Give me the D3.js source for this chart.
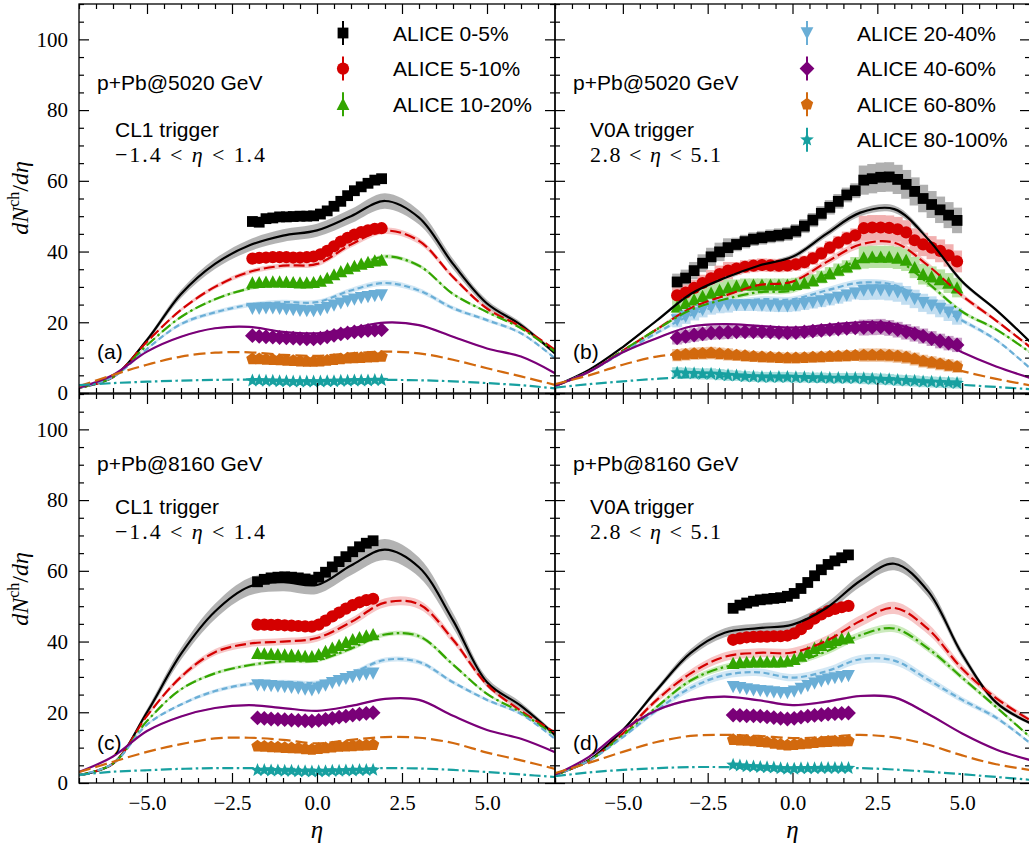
<!DOCTYPE html>
<html>
<head>
<meta charset="utf-8">
<script src="https://cdn.jsdelivr.net/npm/d3@7"></script>
<style>
  body { margin: 0; background: #fff; }
  svg { display: block; }
</style>
</head>
<body>
<svg id="chart" width="1029" height="847"></svg>
<script>
// ---------------- data ----------------
const centralities = ["0-5%", "5-10%", "10-20%", "20-40%", "40-60%", "60-80%", "80-100%"];
const legendTop = ["ALICE 0-5%", "ALICE 5-10%", "ALICE 10-20%"];
const legendBottom = ["ALICE 20-40%", "ALICE 40-60%", "ALICE 60-80%", "ALICE 80-100%"];

const xMajorTicks = [-5, -2.5, 0, 2.5, 5];
const yMajorTicks = [0, 20, 40, 60, 80, 100];

// model pseudorapidity grid
const etaModel = [-7, -6, -5, -4, -3, -2, -1, 0, 1, 2, 3, 4, 5, 6, 7];

// model dN/deta, p+Pb 5020 GeV, CL1 classes (0-5 ... 80-100)
const modelA = [
  [1.5, 4.5, 15, 28, 36.5, 41.7, 44.5, 46, 50, 54.3, 49.6, 36.5, 25.3, 19.2, 11.2],
  [1.5, 4.5, 14.5, 23.5, 30, 34.2, 36, 36.5, 42, 45.9, 43, 32.8, 23.9, 18.7, 12.2],
  [1.5, 4.5, 13.5, 21.5, 26.5, 29.5, 30.9, 31.4, 35, 38.6, 36, 28, 22.9, 18.3, 11.7],
  [1.5, 4.5, 12.5, 19.5, 22.8, 24.9, 25.7, 25.7, 29, 31.1, 29, 24, 20.6, 16.9, 9.8],
  [1.5, 5.1, 11.7, 15.9, 18.3, 18.7, 17.3, 16.9, 18.3, 19.9, 19.2, 15.9, 12.6, 10.3, 5.6],
  [1.9, 5.1, 8, 10.3, 11.4, 11.5, 10.8, 10.5, 11.2, 11.7, 11.2, 9.4, 7, 4.7, 2.3],
  [2.2, 2.8, 3.2, 3.5, 3.7, 3.8, 3.6, 3.5, 3.6, 3.7, 3.6, 3.3, 2.8, 2.2, 1.3]
];
// model dN/deta, p+Pb 5020 GeV, V0A classes
const modelB = [
  [2, 6.5, 13, 20.5, 28, 32.5, 36, 38.5, 45, 51, 52, 43.5, 31.5, 23.5, 14.5],
  [2, 6, 12, 18, 24, 27.5, 30.5, 31.5, 37, 42, 42.5, 36, 27.5, 20.5, 13],
  [2, 6, 12, 18, 23.5, 26.5, 28.5, 29, 33.5, 37.5, 37.8, 31, 23, 18, 11.5],
  [2, 6, 11.5, 17, 22, 25, 26.5, 26.5, 29, 31.2, 30.5, 25.5, 20.5, 15, 7],
  [2, 6, 11.5, 15.5, 18.8, 19.5, 19, 18.5, 19.2, 20, 19.5, 16.5, 11.5, 7.5, 4.3],
  [2.5, 5, 8, 10.3, 11.2, 11, 10.2, 9.9, 10.5, 11.2, 10.8, 9, 6.2, 4, 2.2],
  [1.5, 2.5, 3.3, 4, 4.5, 4.7, 4.5, 4.3, 4.2, 4, 3.6, 3, 2.3, 1.7, 1.1]
];
// model dN/deta, p+Pb 8160 GeV, CL1 classes
const modelC = [
  [2.2, 5.5, 20, 36.5, 48.5, 55.5, 56.8, 56, 61.5, 66, 61, 46, 28.5, 21.8, 13.6],
  [2.2, 5.5, 19, 30, 37, 39.4, 40, 41, 45.5, 51, 50.5, 40.5, 27.8, 20.4, 14.3],
  [2.2, 5.5, 17.5, 26.5, 31, 33.3, 34.4, 34.7, 38, 42, 41.5, 33.5, 25.2, 19.9, 13.4],
  [2.2, 5.5, 16.5, 22.2, 26, 28, 28.6, 28.4, 31, 34.8, 34.2, 28.5, 23.5, 19.5, 12.5],
  [3.1, 7.5, 14.7, 18.8, 21.2, 22, 21.2, 20.4, 21.8, 23.8, 23.5, 19, 15, 12.5, 8.7],
  [3.1, 6, 8.8, 11, 12.6, 12.8, 12.2, 11.2, 12.2, 13, 12.8, 11.3, 8.6, 6.4, 4],
  [2.3, 3.2, 3.6, 4, 4.2, 4.2, 4.1, 3.8, 4, 4.2, 4.1, 3.7, 3.1, 2.4, 1.7]
];
// model dN/deta, p+Pb 8160 GeV, V0A classes
const modelD = [
  [2.3, 6.5, 15, 26.3, 36.8, 42.5, 43.8, 44.8, 49.5, 57.2, 62, 54.2, 36.4, 22.8, 17],
  [2.3, 6.3, 14, 23.5, 31, 35.7, 36.8, 36.9, 40.2, 45.8, 49.5, 43.5, 32.3, 24, 17.8],
  [2.3, 6.3, 13.5, 21.5, 29, 32.8, 34, 34.1, 37.2, 41.8, 43.7, 38, 29.8, 21.5, 13],
  [2.3, 6.3, 13, 20.6, 26.9, 30.5, 31.3, 29.8, 31.6, 35, 34.6, 29.2, 23.5, 18.5, 11.3],
  [2.3, 7.4, 15, 20.6, 23.5, 24.4, 23.4, 22, 23, 24.6, 24.2, 19.5, 14, 9.5, 6.5],
  [2.8, 5.7, 8.8, 11.6, 13.3, 13.6, 13.3, 12.7, 13, 13.6, 12.9, 10.8, 7.8, 5.3, 3.7],
  [1.9, 3, 3.7, 4.2, 4.5, 4.5, 4.3, 4.2, 4.2, 4.2, 3.8, 3.2, 2.5, 1.7, 0.9]
];

// relative model uncertainty (band half-width) per class
const bandA = [0.04, 0.02, 0.015, 0.025, 0.012, 0, 0];
const bandB = [0.02, 0.025, 0.025, 0.03, 0.015, 0, 0];
const bandC = [0.045, 0.025, 0.015, 0.02, 0.01, 0, 0];
const bandD = [0.03, 0.035, 0.025, 0.035, 0.015, 0, 0];

// ALICE measurements
const etaDataA = [-1.9, -1.7, -1.5, -1.3, -1.1, -0.9, -0.7, -0.5, -0.3, -0.1, 0.1, 0.3, 0.5, 0.7, 0.9, 1.1, 1.3, 1.5, 1.7, 1.9];
const dataA = [
  [48.5, 48.3, 49.3, 49.5, 49.8, 49.8, 49.9, 50, 50, 50.1, 50.6, 51.5, 52.8, 54.2, 55.8, 57.2, 58.3, 59.3, 60.2, 60.6],
  [38, 38.2, 38.3, 38.4, 38.4, 38.4, 38.3, 38.3, 38.4, 38.6, 39.2, 40.2, 41.5, 42.8, 43.9, 44.8, 45.5, 46, 46.4, 46.6],
  [31.2, 31.3, 31.4, 31.5, 31.5, 31.4, 31.3, 31.2, 31.2, 31.3, 31.7, 32.5, 33.5, 34.4, 35.2, 35.9, 36.5, 37, 37.4, 37.6],
  [23.9, 23.9, 24, 24, 23.9, 23.7, 23.5, 23.3, 23.2, 23.2, 23.5, 24.1, 24.8, 25.4, 26, 26.5, 26.9, 27.2, 27.5, 27.7],
  [16.2, 16, 15.9, 15.8, 15.7, 15.6, 15.5, 15.4, 15.3, 15.3, 15.5, 15.9, 16.3, 16.7, 17, 17.3, 17.5, 17.7, 17.8, 17.9],
  [9.6, 9.6, 9.5, 9.4, 9.3, 9.2, 9.1, 9, 8.9, 8.9, 9, 9.2, 9.4, 9.6, 9.8, 9.9, 10, 10.1, 10.2, 10.3],
  [3.5, 3.5, 3.4, 3.4, 3.3, 3.3, 3.2, 3.2, 3.2, 3.2, 3.2, 3.3, 3.3, 3.4, 3.4, 3.5, 3.5, 3.5, 3.6, 3.6]
];

const etaDataB = [-3.4, -3.15, -2.9, -2.65, -2.4, -2.15, -1.9, -1.65, -1.4, -1.15, -0.9, -0.65, -0.4, -0.15, 0.1, 0.35, 0.6, 0.85, 1.1, 1.35, 1.6, 1.85,
                  2.1, 2.35, 2.6, 2.85, 3.1, 3.35, 3.6, 3.85, 4.1, 4.35, 4.6, 4.85];
const dataB = [
  [31.4, 32.5, 34.6, 36.7, 38.5, 39.9, 41.1, 42, 42.8, 43.5, 43.9, 44.3, 44.6, 45, 45.8, 47.2, 48.9, 50.8, 52.5, 54.2, 56, 57.2,
   60.2, 60.6, 61, 61.1, 60.4, 59, 57, 55, 53.3, 51.8, 50.3, 48.8],
  [27.6, 28.4, 29.7, 31.1, 32.4, 33.6, 34.6, 35.2, 35.7, 36, 36.2, 36.1, 36, 36.1, 36.4, 37, 38.1, 39.5, 41.1, 42.5, 43.7, 44.6,
   46.6, 46.8, 46.8, 46.7, 46.3, 45.4, 43.2, 42, 41.1, 40.2, 38.9, 37.2],
  [24.4, 25.4, 26.4, 27.4, 28.3, 29.1, 29.8, 30.3, 30.6, 30.6, 30.6, 30.6, 30.6, 30.6, 30.8, 31.1, 31.8, 32.8, 33.8, 34.8, 35.7, 36.6,
   38.3, 38.5, 38.5, 38.5, 38.2, 37.6, 35.5, 33.6, 32.9, 32.1, 31.1, 29.8],
  [20.6, 21.6, 22.6, 23.5, 24.3, 24.7, 24.9, 24.9, 24.9, 24.9, 24.8, 24.7, 24.6, 24.6, 24.8, 25.2, 25.6, 26, 26.5, 27, 27.6, 28.2,
   29, 29.1, 29.1, 28.9, 28.5, 27.6, 26.6, 25.5, 24.8, 23.9, 22.8, 21.7],
  [15.6, 16, 16.4, 16.7, 17, 17.1, 17.2, 17.3, 17.3, 17.3, 17.3, 17.2, 17.1, 17, 17.1, 17.3, 17.5, 17.7, 17.9, 18.1, 18.3, 18.4,
   18.5, 18.6, 18.7, 18.4, 17.9, 17.3, 16.7, 16.1, 15.4, 14.7, 14.1, 13.6],
  [10.7, 10.9, 11.1, 11.2, 11.3, 11.1, 10.9, 10.7, 10.5, 10.3, 10.2, 10.1, 10, 9.9, 9.9, 10, 10.1, 10.2, 10.3, 10.4, 10.5, 10.6,
   10.7, 10.7, 10.7, 10.6, 10.4, 10.1, 9.6, 9, 8.6, 8.2, 7.8, 7.4],
  [5.7, 5.6, 5.5, 5.4, 5.4, 5.2, 5, 4.9, 4.7, 4.6, 4.5, 4.5, 4.5, 4.5, 4.4, 4.4, 4.3, 4.3, 4.2, 4.2, 4.2, 4.2,
   4.1, 4, 3.9, 3.8, 3.6, 3.5, 3.4, 3.2, 3.1, 3, 2.9, 2.8]
];
// relative systematic uncertainty of each V0A point
const sysB = [0.03, 0.03, 0.03, 0.03, 0.03, 0.03, 0.03, 0.012, 0.012, 0.012, 0.012, 0.012, 0.012, 0.012, 0.012, 0.012, 0.012, 0.012, 0.012, 0.012, 0.012, 0.012,
              0.045, 0.045, 0.045, 0.045, 0.045, 0.045, 0.045, 0.045, 0.045, 0.045, 0.045, 0.045];

const etaDataCD = [-1.75, -1.55, -1.35, -1.15, -0.95, -0.75, -0.55, -0.35, -0.15, 0.05, 0.25, 0.45, 0.65, 0.85, 1.05, 1.25, 1.45, 1.65];
const dataC = [
  [56.9, 57.6, 58, 58.2, 58.3, 58.2, 58, 57.7, 57.4, 58.2, 59.6, 61.1, 62.6, 64, 65.4, 66.8, 67.8, 68.5],
  [44.8, 44.8, 44.7, 44.7, 44.6, 44.5, 44.4, 44.3, 44.2, 44.8, 45.9, 47.1, 48.2, 49.3, 50.3, 51.1, 51.7, 52.1],
  [36.7, 36.6, 36.5, 36.4, 36.3, 36.2, 36.1, 35.9, 35.8, 36.4, 37.3, 38.2, 39, 39.8, 40.6, 41.2, 41.7, 42],
  [27.7, 27.6, 27.5, 27.3, 27.2, 27, 26.8, 26.5, 26.3, 26.8, 27.6, 28.3, 28.9, 29.5, 30, 30.5, 30.8, 31],
  [18.4, 18.3, 18.1, 18, 17.9, 17.8, 17.7, 17.6, 17.5, 17.7, 18, 18.3, 18.6, 18.9, 19.2, 19.5, 19.7, 19.9],
  [10.4, 10.3, 10.2, 10.1, 10, 9.9, 9.8, 9.6, 9.5, 9.7, 9.9, 10.1, 10.3, 10.4, 10.5, 10.6, 10.7, 10.8],
  [3.6, 3.6, 3.5, 3.5, 3.4, 3.4, 3.3, 3.3, 3.2, 3.3, 3.3, 3.4, 3.4, 3.5, 3.5, 3.6, 3.6, 3.7]
];
const dataD = [
  [49.4, 50.3, 50.9, 51.4, 51.8, 52, 52.2, 52.4, 52.8, 53.6, 55, 56.7, 58.6, 60.3, 61.8, 62.8, 63.7, 64.5],
  [40.5, 40.9, 41.2, 41.3, 41.4, 41.4, 41.5, 41.5, 41.7, 42.3, 43.5, 45, 46.5, 47.7, 48.6, 49.2, 49.7, 50.1],
  [33.9, 34.1, 34.2, 34.3, 34.3, 34.3, 34.3, 34.3, 34.5, 35, 35.9, 37, 38.1, 39, 39.8, 40.4, 40.8, 41.1],
  [27.2, 26.9, 26.6, 26.3, 26.1, 25.9, 25.7, 25.5, 25.5, 25.9, 26.7, 27.5, 28.2, 28.8, 29.3, 29.7, 30, 30.3],
  [19.2, 19.1, 19, 19, 18.9, 18.7, 18.5, 18.3, 18.1, 18.3, 18.6, 18.9, 19.1, 19.3, 19.5, 19.6, 19.7, 19.8],
  [12.2, 12.1, 12, 11.9, 11.7, 11.5, 11.2, 10.9, 10.7, 10.8, 11, 11.2, 11.4, 11.6, 11.7, 11.8, 11.8, 11.9],
  [5.1, 4.9, 4.7, 4.6, 4.5, 4.4, 4.3, 4.1, 4, 4, 4.1, 4.1, 4.1, 4.2, 4.2, 4.2, 4.2, 4.2]
];

// ---------------- styles ----------------
const colors     = ["#000000", "#d40000", "#33a500", "#6aaed6", "#7a0078", "#d2690e", "#17a0a0"];
const bandColors = ["#a6a6a6", "#f2a0a0", "#a8dc90", "#b5d8ef", "#c090c0", "#f0c8a0", "#a0dcdc"];
const sysColors  = ["#b0b0b0", "#f2b0b0", "#b8e2a4", "#c2def1", "#c8a0c8", "#efc6a4", "#a8dede"];
const dashes     = [null, "11,4", "11,3.5,2.5,3.5", "6,3.5", null, "12,5", "11,3.5,2.5,3.5"];

const SANS = "'Liberation Sans', Arial, sans-serif";
const SERIF = "'Liberation Serif', 'Times New Roman', serif";

const panels = [
  { id: "a", model: modelA, band: bandA, eta: etaDataA, data: dataA, sys: null,
    x0: 79, x1: 555, y0: 4, y1: 393, xLabels: false, yLabels: true,
    energy: "p+Pb@5020 GeV", trig: "CL1 trigger", win: ["\u22121.4", "1.4"], winW: 150,
    tx: 97, tx2: 115, ty: [90, 137, 162], tag: "(a)", tagY: 359, legend: legendTop, legendStart: 0, lx: 343, ltx: 393 },
  { id: "b", model: modelB, band: bandB, eta: etaDataB, data: dataB, sys: sysB,
    x0: 555, x1: 1030, y0: 4, y1: 393, xLabels: false, yLabels: false,
    energy: "p+Pb@5020 GeV", trig: "V0A trigger", win: ["2.8", "5.1"], winW: 131,
    tx: 573, tx2: 590, ty: [90, 137, 162], tag: "(b)", tagY: 359, legend: legendBottom, legendStart: 3, lx: 807, ltx: 857 },
  { id: "c", model: modelC, band: bandC, eta: etaDataCD, data: dataC, sys: null,
    x0: 79, x1: 555, y0: 394, y1: 783, xLabels: true, yLabels: true,
    energy: "p+Pb@8160 GeV", trig: "CL1 trigger", win: ["\u22121.4", "1.4"], winW: 150,
    tx: 97, tx2: 115, ty: [471, 514, 539], tag: "(c)", tagY: 750, legend: null },
  { id: "d", model: modelD, band: bandD, eta: etaDataCD, data: dataD, sys: null,
    x0: 555, x1: 1030, y0: 394, y1: 783, xLabels: true, yLabels: false,
    energy: "p+Pb@8160 GeV", trig: "V0A trigger", win: ["2.8", "5.1"], winW: 131,
    tx: 573, tx2: 590, ty: [471, 514, 539], tag: "(d)", tagY: 750, legend: null }
];

// ---------------- markers ----------------
function polygon(pts) {
  return "M" + pts.map(p => p[0].toFixed(2) + "," + p[1].toFixed(2)).join("L") + "Z";
}
function regular(n, r, rot) {
  const pts = [];
  for (let k = 0; k < n; k++) {
    const a = rot + k * 2 * Math.PI / n;
    pts.push([r * Math.cos(a), r * Math.sin(a)]);
  }
  return pts;
}
function markerPath(i) {
  switch (i) {
    case 0: return polygon([[-5.4, -5.4], [5.4, -5.4], [5.4, 5.4], [-5.4, 5.4]]);
    case 1: return d3.symbol(d3.symbolCircle, Math.PI * 6.1 * 6.1)();
    case 2: return polygon([[0, -6.4], [6.4, 5.8], [-6.4, 5.8]]);
    case 3: return polygon([[0, 6.4], [6.4, -5.8], [-6.4, -5.8]]);
    case 4: return polygon([[0, -7.4], [7.4, 0], [0, 7.4], [-7.4, 0]]);
    case 5: return polygon(regular(5, 6.5, -Math.PI / 2));
    case 6: {
      const pts = [];
      for (let k = 0; k < 10; k++) {
        const r = k % 2 === 0 ? 7.2 : 3.1;
        const a = -Math.PI / 2 + k * Math.PI / 5;
        pts.push([r * Math.cos(a), r * Math.sin(a)]);
      }
      return polygon(pts);
    }
  }
}

// ---------------- drawing ----------------
const svg = d3.select("#chart");
const defs = svg.append("defs");

function drawPanel(p) {
  const x = d3.scaleLinear().domain([-7, 7]).range([p.x0, p.x1]);
  const y = d3.scaleLinear().domain([0, 110]).range([p.y1, p.y0]);

  defs.append("clipPath").attr("id", "clip-" + p.id)
    .append("rect").attr("x", p.x0).attr("y", p.y0)
    .attr("width", p.x1 - p.x0).attr("height", p.y1 - p.y0);

  const g = svg.append("g");
  const plot = g.append("g").attr("clip-path", `url(#clip-${p.id})`);
  const curve = d3.curveCatmullRom.alpha(0.5);

  // model uncertainty bands
  p.model.forEach((vals, i) => {
    const r = p.band[i];
    if (!r) return;
    const area = d3.area()
      .x((d, j) => x(etaModel[j]))
      .y0(d => y(d * (1 - r)))
      .y1(d => y(d * (1 + r)))
      .curve(curve);
    plot.append("path").attr("d", area(vals))
      .attr("fill", bandColors[i]).attr("fill-opacity", i === 0 ? 0.85 : 0.6);
  });

  // systematic boxes
  if (p.sys) {
    p.data.forEach((vals, i) => {
      plot.append("g").selectAll("rect").data(vals).join("rect")
        .attr("x", (d, j) => x(p.eta[j]) - 5)
        .attr("width", 10)
        .attr("y", (d, j) => y(d * (1 + p.sys[j])) - 5)
        .attr("height", (d, j) => y(d * (1 - p.sys[j])) - y(d * (1 + p.sys[j])) + 10)
        .attr("fill", sysColors[i]);
    });
  }

  // data markers
  p.data.forEach((vals, i) => {
    const path = markerPath(i);
    plot.append("g").selectAll("path").data(vals).join("path")
      .attr("d", path)
      .attr("transform", (d, j) => `translate(${x(p.eta[j])},${y(d)})`)
      .attr("fill", colors[i]);
  });

  // model curves
  p.model.forEach((vals, i) => {
    const line = d3.line().x((d, j) => x(etaModel[j])).y(d => y(d)).curve(curve);
    plot.append("path").attr("d", line(vals))
      .attr("fill", "none").attr("stroke", colors[i]).attr("stroke-width", 2.2)
      .attr("stroke-dasharray", dashes[i]);
  });

  // axes with inward ticks on every side
  const xMinor = d3.range(-7, 7.001, 0.5).filter(v => !xMajorTicks.includes(v));
  const yMinor = d3.range(0, 110.001, 5).filter(v => !yMajorTicks.includes(v));
  const fmtX = d3.format(".1f");

  function styleAxis(sel) {
    sel.select(".domain").remove();
    sel.selectAll(".tick line").attr("stroke", "#000").attr("stroke-width", 1.2);
    sel.selectAll("text").attr("font-family", SERIF).attr("font-size", 21).attr("fill", "#000");
  }

  g.append("g").attr("transform", `translate(0,${p.y1})`)
    .call(d3.axisBottom(x).tickValues(xMajorTicks).tickSizeInner(-10).tickSizeOuter(0)
      .tickPadding(12).tickFormat(p.xLabels ? fmtX : () => ""))
    .call(styleAxis);
  g.append("g").attr("transform", `translate(0,${p.y1})`)
    .call(d3.axisBottom(x).tickValues(xMinor).tickSizeInner(-5).tickSizeOuter(0).tickFormat(() => ""))
    .call(styleAxis);
  g.append("g").attr("transform", `translate(0,${p.y0})`)
    .call(d3.axisTop(x).tickValues(xMajorTicks).tickSizeInner(-10).tickSizeOuter(0).tickFormat(() => ""))
    .call(styleAxis);
  g.append("g").attr("transform", `translate(0,${p.y0})`)
    .call(d3.axisTop(x).tickValues(xMinor).tickSizeInner(-5).tickSizeOuter(0).tickFormat(() => ""))
    .call(styleAxis);
  g.append("g").attr("transform", `translate(${p.x0},0)`)
    .call(d3.axisLeft(y).tickValues(yMajorTicks).tickSizeInner(-10).tickSizeOuter(0)
      .tickPadding(11).tickFormat(p.yLabels ? d3.format("d") : () => ""))
    .call(styleAxis);
  g.append("g").attr("transform", `translate(${p.x0},0)`)
    .call(d3.axisLeft(y).tickValues(yMinor).tickSizeInner(-5).tickSizeOuter(0).tickFormat(() => ""))
    .call(styleAxis);
  g.append("g").attr("transform", `translate(${p.x1},0)`)
    .call(d3.axisRight(y).tickValues(yMajorTicks).tickSizeInner(-10).tickSizeOuter(0).tickFormat(() => ""))
    .call(styleAxis);
  g.append("g").attr("transform", `translate(${p.x1},0)`)
    .call(d3.axisRight(y).tickValues(yMinor).tickSizeInner(-5).tickSizeOuter(0).tickFormat(() => ""))
    .call(styleAxis);

  // frame
  g.append("rect").attr("x", p.x0).attr("y", p.y0)
    .attr("width", p.x1 - p.x0).attr("height", p.y1 - p.y0)
    .attr("fill", "none").attr("stroke", "#000").attr("stroke-width", 1.3);

  // annotations
  g.append("text").attr("x", p.tx).attr("y", p.ty[0])
    .attr("font-family", SANS).attr("font-size", 21).text(p.energy);
  g.append("text").attr("x", p.tx2).attr("y", p.ty[1])
    .attr("font-family", SANS).attr("font-size", 21).text(p.trig);
  const w = g.append("text").attr("x", p.tx2).attr("y", p.ty[2])
    .attr("font-family", SERIF).attr("font-size", 22)
    .attr("textLength", p.winW).attr("lengthAdjust", "spacing");
  w.append("tspan").text(p.win[0] + " < ");
  w.append("tspan").attr("font-style", "italic").text("\u03b7");
  w.append("tspan").text(" < " + p.win[1]);
  g.append("text").attr("x", p.tx).attr("y", p.tagY)
    .attr("font-family", SANS).attr("font-size", 21).text(p.tag);

  // legend
  if (p.legend) {
    p.legend.forEach((label, k) => {
      const i = p.legendStart + k;
      const cy = 33 + k * 35.6;
      g.append("line").attr("x1", p.lx).attr("x2", p.lx)
        .attr("y1", cy - 12).attr("y2", cy + 12)
        .attr("stroke", colors[i]).attr("stroke-width", 2);
      g.append("path").attr("d", markerPath(i))
        .attr("transform", `translate(${p.lx},${cy})`).attr("fill", colors[i]);
      g.append("text").attr("x", p.ltx).attr("y", cy + 7.5)
        .attr("font-family", SANS).attr("font-size", 21).text(label);
    });
  }
}

panels.forEach(drawPanel);

// axis titles
[[28, 198], [28, 589]].forEach(([cx, cy]) => {
  const t = svg.append("text")
    .attr("transform", `translate(${cx},${cy}) rotate(-90)`)
    .attr("text-anchor", "middle")
    .attr("font-family", SERIF).attr("font-size", 24);
  t.append("tspan").attr("font-style", "italic").text("dN");
  t.append("tspan").attr("font-size", 16).attr("dy", -9).text("ch");
  t.append("tspan").attr("dy", 9).text("/");
  t.append("tspan").attr("font-style", "italic").text("d\u03b7");
});
[317, 792.5].forEach(cx => {
  svg.append("text").attr("x", cx).attr("y", 838)
    .attr("text-anchor", "middle").attr("font-family", SERIF)
    .attr("font-size", 25).attr("font-style", "italic").text("\u03b7");
});
</script>
</body>
</html>
